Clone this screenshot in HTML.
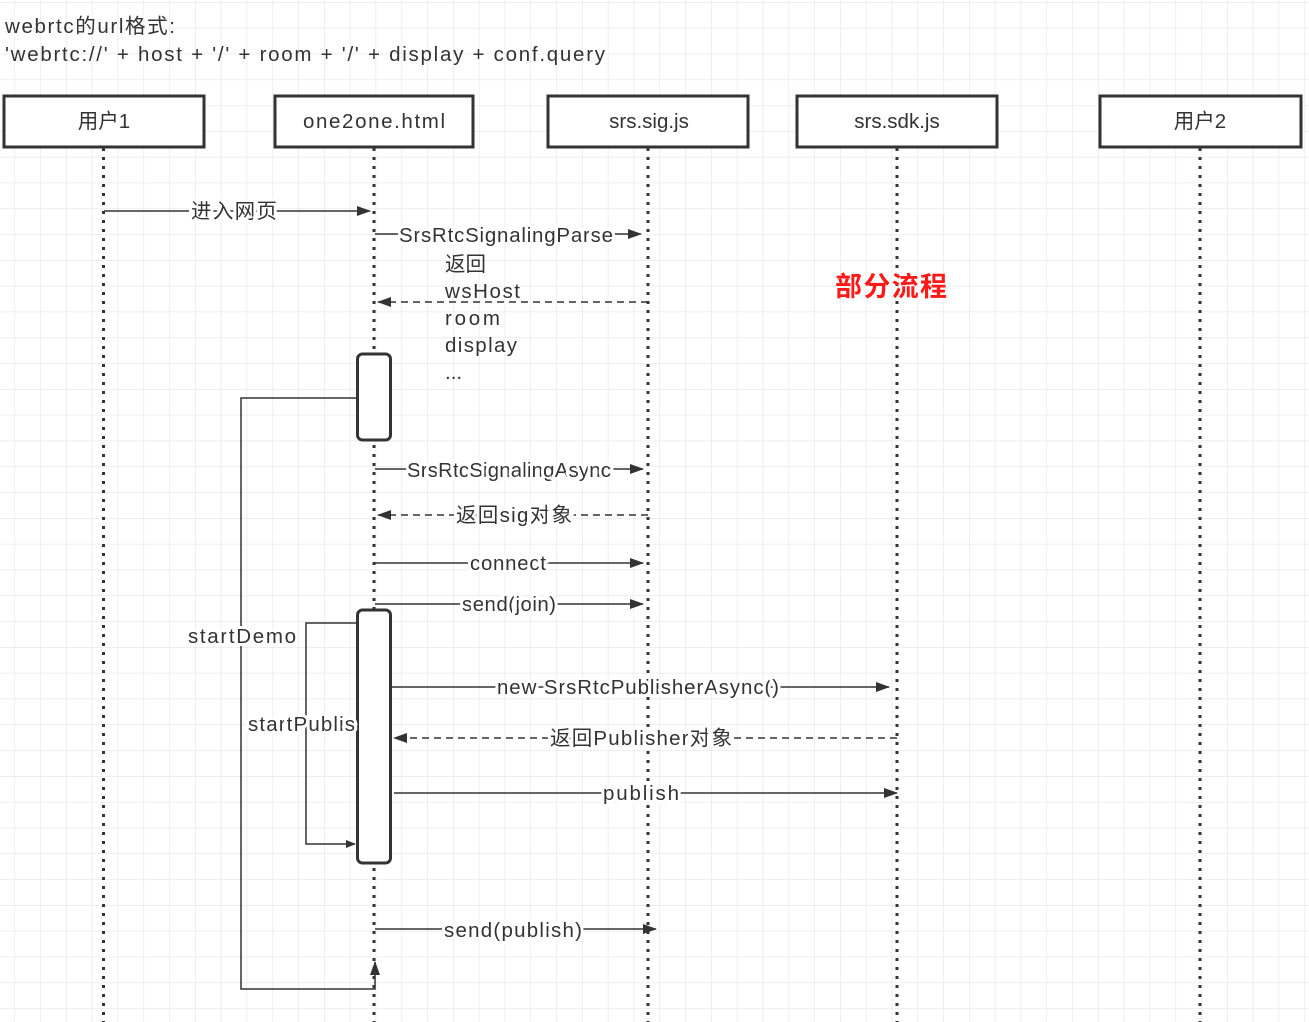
<!DOCTYPE html>
<html><head><meta charset="utf-8"><style>
html,body{margin:0;padding:0;background:#fff;}
svg{display:block;}
text{font-family:"Liberation Sans","Noto Sans CJK SC",sans-serif;font-size:20.5px;fill:#333;}
</style></head><body>
<svg width="1309" height="1022" xmlns="http://www.w3.org/2000/svg">
<defs>
<pattern id="g" x="14.4" y="2" width="25.8" height="25.8" patternUnits="userSpaceOnUse">
<path d="M0 0H25.8M0 0V25.8" stroke="#e4e4e4" stroke-width="1.2" fill="none"/>
</pattern>
<marker id="a" markerWidth="10" markerHeight="8" refX="9" refY="4" orient="auto" markerUnits="userSpaceOnUse"><path d="M0 0L10 4L0 8Z" fill="#333"/></marker>
<marker id="ab" markerWidth="14" markerHeight="10" refX="13" refY="5" orient="auto" markerUnits="userSpaceOnUse"><path d="M0 0L14 5L0 10Z" fill="#333"/></marker>
</defs>
<rect width="1309" height="1022" fill="url(#g)"/>
<text x="5" y="33" textLength="170">webrtc的url格式:</text>
<text x="5" y="61" textLength="600">'webrtc://' + host + '/' + room + '/' + display + conf.query</text>

<g stroke="#333" stroke-width="3" stroke-dasharray="3 6" fill="none">
<line x1="103.5" y1="148" x2="103.5" y2="1022"/>
<line x1="374" y1="148" x2="374" y2="1022"/>
<line x1="648" y1="148" x2="648" y2="1022"/>
<line x1="897" y1="148" x2="897" y2="1022"/>
<line x1="1200" y1="148" x2="1200" y2="1022"/>
</g>

<g fill="#fff" stroke="#333" stroke-width="3">
<rect x="4" y="96" width="200" height="51"/>
<rect x="275" y="96" width="198" height="51"/>
<rect x="548" y="96" width="200" height="51"/>
<rect x="797" y="96" width="200" height="51"/>
<rect x="1100" y="96" width="201" height="51"/>
</g>
<g text-anchor="middle">
<text x="104" y="128">用户1</text>
<text x="374" y="128" textLength="142">one2one.html</text>
<text x="649" y="128">srs.sig.js</text>
<text x="897" y="128">srs.sdk.js</text>
<text x="1200" y="128">用户2</text>
</g>

<g stroke="#333" stroke-width="1.5" fill="none">
<path d="M357 398H241V989H375V962" marker-end="url(#ab)"/>
<path d="M357 623H306V844H355" marker-end="url(#a)"/>
<line x1="104" y1="211" x2="370" y2="211" marker-end="url(#ab)"/>
<line x1="375" y1="234" x2="641" y2="234" marker-end="url(#ab)"/>
<line x1="648" y1="302" x2="378" y2="302" stroke-dasharray="7 5" marker-end="url(#ab)"/>
<line x1="375" y1="469" x2="643" y2="469" marker-end="url(#ab)"/>
<line x1="648" y1="515" x2="378" y2="515" stroke-dasharray="7 5" marker-end="url(#ab)"/>
<line x1="375" y1="563" x2="643" y2="563" marker-end="url(#ab)"/>
<line x1="375" y1="604" x2="643" y2="604" marker-end="url(#ab)"/>
<line x1="392" y1="687" x2="889" y2="687" marker-end="url(#ab)"/>
<line x1="897" y1="738" x2="394" y2="738" stroke-dasharray="7 5" marker-end="url(#ab)"/>
<line x1="394" y1="793" x2="897" y2="793" marker-end="url(#ab)"/>
<line x1="375" y1="929" x2="656" y2="929" marker-end="url(#ab)"/>
</g>

<rect x="357.5" y="354" width="33" height="86" rx="5" fill="#fff" stroke="#333" stroke-width="3"/>
<rect x="357.5" y="610" width="33" height="253" rx="5" fill="#fff" stroke="#333" stroke-width="3"/>

<g text-anchor="middle" style="paint-order:stroke" stroke="#fff" stroke-width="6">
<text x="234" y="218" textLength="86">进入网页</text>
<text x="506" y="242" textLength="214">SrsRtcSignalingParse</text>
<text x="509" y="477" textLength="204">SrsRtcSignalingAsync</text>
<text x="514" y="522" textLength="116">返回sig对象</text>
<text x="508" y="570" textLength="76">connect</text>
<text x="509" y="611" textLength="94">send(join)</text>
<text x="638" y="694" textLength="282">new SrsRtcPublisherAsync()</text>
<text x="641" y="745" textLength="182">返回Publisher对象</text>
<text x="641" y="800" textLength="76">publish</text>
<text x="513" y="937" textLength="138">send(publish)</text>
<text x="242" y="643" textLength="108">startDemo</text>
</g>
<text x="248" y="731" textLength="107" style="paint-order:stroke" stroke="#fff" stroke-width="6">startPublis</text>
<text x="445" y="271">返回</text>
<text x="445" y="298" textLength="75">wsHost</text>
<text x="445" y="325" textLength="55">room</text>
<text x="445" y="352" textLength="72">display</text>
<text x="445" y="379">...</text>
<text x="835" y="296" textLength="112" style="font-size:27px;font-weight:bold;fill:#ff1a1a">部分流程</text>
</svg>
</body></html>
